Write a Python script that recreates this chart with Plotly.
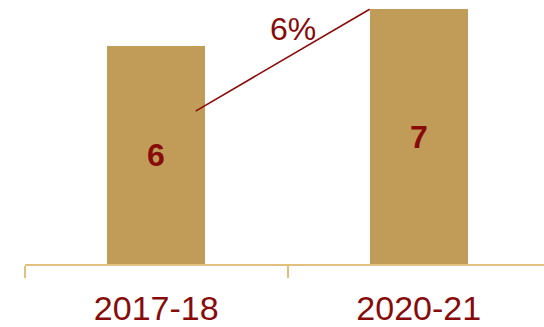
import plotly.graph_objects as go

# Data
categories = ["2017-18", "2020-21"]
values = [6, 7]
growth_label = "6%"

BAR_COLOR = "#C19B58"
AXIS_COLOR = "#E2C07E"
TEXT_COLOR = "#870B0B"
BAR_WIDTH = 0.374

fig = go.Figure()

fig.add_trace(go.Bar(
    x=categories,
    y=values,
    width=BAR_WIDTH,
    marker=dict(color=BAR_COLOR, line=dict(width=0)),
    text=[str(v) for v in values],
    textposition="inside",
    insidetextanchor="middle",
    textangle=0,
    textfont=dict(family="Liberation Sans", size=32, color=TEXT_COLOR, weight="bold"),
    cliponaxis=False,
    hoverinfo="skip",
))

# Growth connector: from inside the first bar up to the top-left corner of the second bar
x_start = 0 + 0.15
x_end = 1 - BAR_WIDTH / 2
y_start = values[0] * 0.70
y_end = values[1]
fig.add_trace(go.Scatter(
    x=[x_start, x_end],
    y=[y_start, y_end],
    xaxis="x2",
    mode="lines",
    line=dict(color="#8B0A0A", width=1.6),
    hoverinfo="skip",
    showlegend=False,
))

fig.add_annotation(
    x=0.52, y=6.45, xref="x2", yref="y",
    text=growth_label, showarrow=False,
    font=dict(family="Liberation Sans", size=32, color=TEXT_COLOR),
)

x_range = [-0.5, 1.5 - 6 / 262]

fig.update_layout(
    width=544, height=327,
    margin=dict(l=25, r=0, t=0, b=63),
    plot_bgcolor="white",
    paper_bgcolor="white",
    showlegend=False,
    bargap=0,
    xaxis=dict(
        type="category",
        range=x_range,
        showline=True, linecolor=AXIS_COLOR, linewidth=2,
        ticks="outside", tickson="boundaries", ticklen=12, tickwidth=2, tickcolor=AXIS_COLOR,
        showgrid=False, zeroline=False,
        tickfont=dict(family="Liberation Sans", size=34, color=TEXT_COLOR),
        ticklabelstandoff=13,
    ),
    xaxis2=dict(
        overlaying="x", range=x_range, visible=False, matches=None,
    ),
    yaxis=dict(
        range=[0, 264 / 36.4],
        visible=False, showgrid=False, zeroline=False,
    ),
)

fig.write_html("out.html")
